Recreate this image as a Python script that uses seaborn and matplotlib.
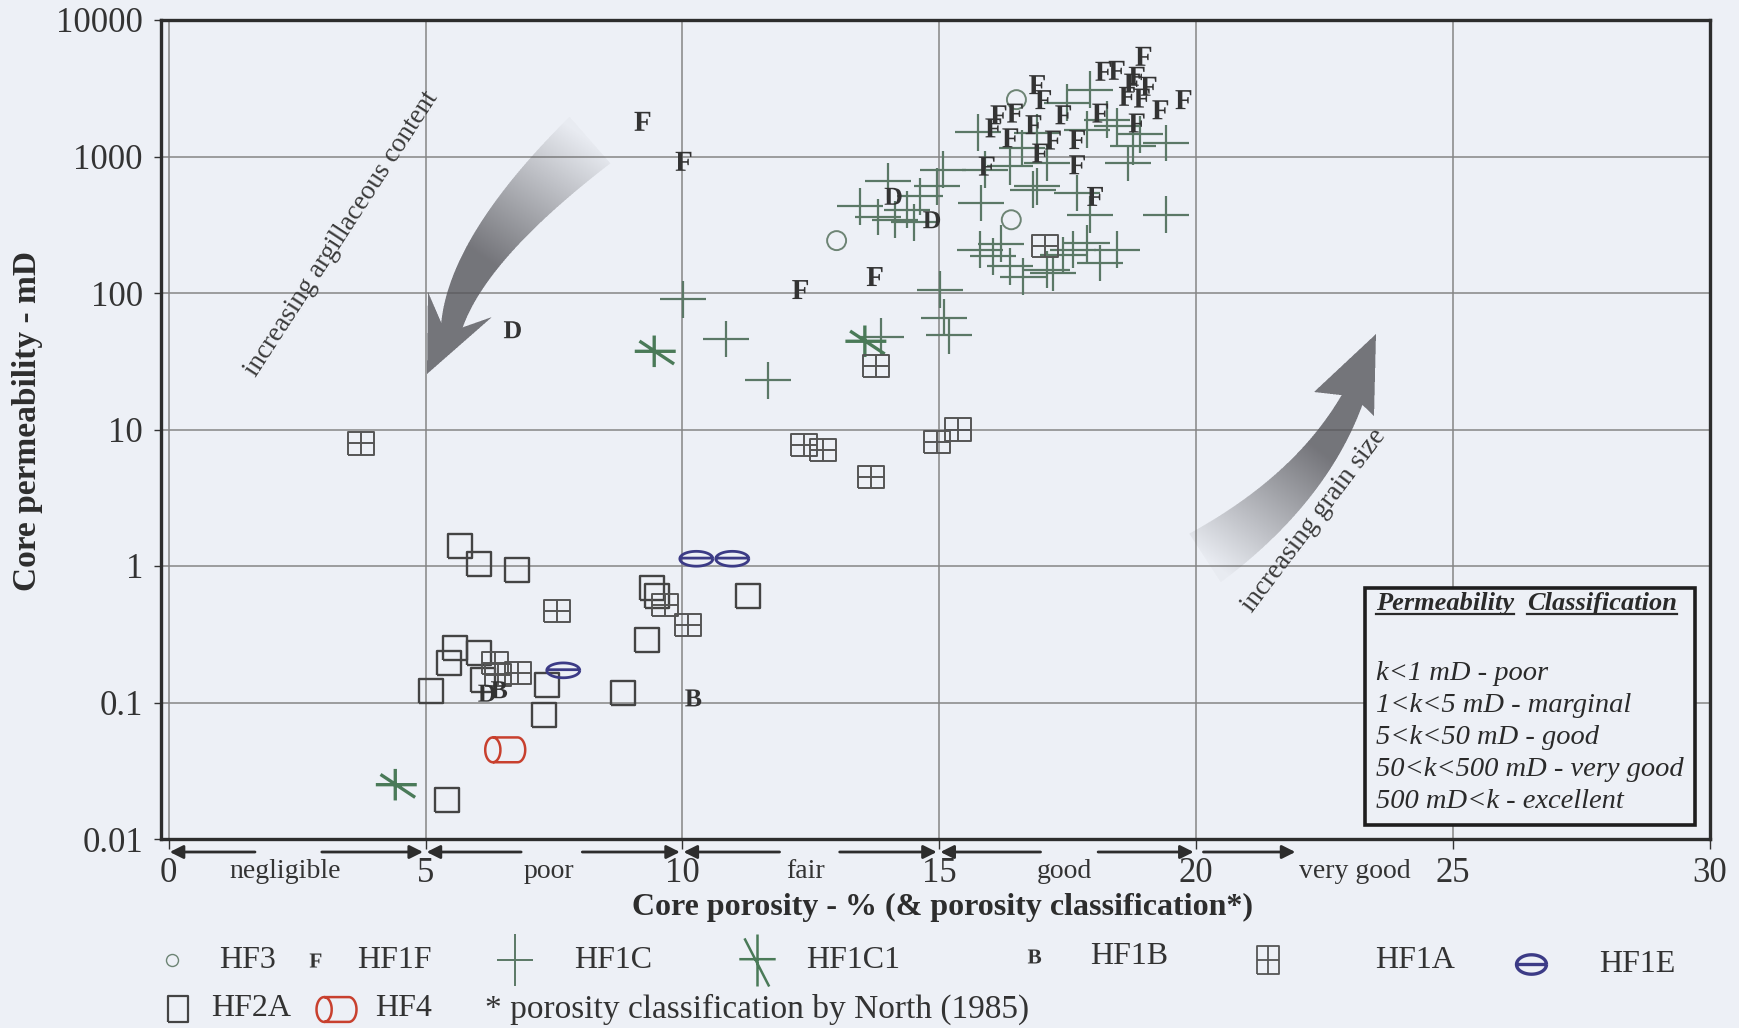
import numpy as np
import pandas as pd
import matplotlib
matplotlib.use("Agg")
import matplotlib.pyplot as plt
import seaborn as sns
from matplotlib.path import Path
from matplotlib.lines import Line2D
from matplotlib.patches import Rectangle
import matplotlib.transforms as mtransforms

# ---------------- data (porosity %, permeability mD) ----------------
hf3_phi = [13.0, 16.5, 16.4]
hf3_k = [242, 2610, 344]

hf1f_phi = [9.22, 10.02, 12.29, 13.74, 18.97, 18.19, 18.45, 18.84, 18.75, 19.07,
            18.65, 18.94, 19.30, 19.75, 16.90, 17.02, 16.15, 16.47, 16.83, 17.41,
            18.13, 18.84, 16.96, 17.68, 17.68, 15.92, 18.03, 16.05, 16.38, 17.21]
hf1f_k = [1810, 922, 106, 132, 5420, 4210, 4280, 3870, 3450, 3270,
          2760, 2680, 2200, 2610, 3360, 2610, 2020, 2080, 1710, 2020,
          2080, 1760, 1060, 1330, 870, 850, 510, 1620, 1370, 1320]

hf1c_phi = [10.01, 10.85, 11.67, 13.87, 15.09, 15.19, 15.02,
            14.01, 13.46, 14.14, 14.37, 14.62, 14.95, 15.08, 15.82, 15.89, 16.83,
            15.79, 16.05, 16.38, 16.63, 17.09, 17.61, 17.09,
            17.93, 17.48, 18.45, 18.77, 19.42, 18.68, 17.87, 18.26, 19.42, 17.93,
            17.68, 18.13, 18.45, 17.87, 16.90, 16.38, 17.22, 16.90, 15.75, 16.60,
            13.80, 14.50, 16.20, 17.40, 18.90]
hf1c_k = [90, 46, 23, 48, 66, 49, 106,
          658, 432, 344, 408, 511, 605, 800, 456, 800, 571,
          207, 186, 157, 132, 148, 207, 896,
          3085, 2470, 1660, 1190, 1255, 896, 1570, 1860, 375, 375,
          540, 166, 207, 232, 605, 850, 140, 1490, 1500, 1150,
          360, 330, 230, 190, 1450]

hf1c1_phi = [4.41, 9.45, 13.55]
hf1c1_k = [0.025, 37.4, 44.3]

hf1b_phi = [10.21, 6.43]
hf1b_k = [0.108, 0.124]

hf1d_phi = [6.69, 14.10, 14.85, 6.19]
hf1d_k = [53.8, 511, 344, 0.117]

hf1a_phi = [3.75, 7.56, 9.66, 10.10, 6.35, 6.40, 6.79, 12.37, 12.74, 13.67,
            14.95, 15.37, 13.77, 17.06]
hf1a_k = [7.9, 0.466, 0.52, 0.371, 0.195, 0.16, 0.164, 7.74, 7.1, 4.5,
          8.06, 10.0, 29.0, 220]

hf1e_phi = [10.27, 10.97, 7.68]
hf1e_k = [1.13, 1.13, 0.172]

hf2a_phi = [5.67, 6.04, 6.78, 9.40, 11.27, 9.30, 8.85, 5.10, 5.46, 5.58,
            6.03, 6.11, 7.36, 7.30, 5.42, 9.50]
hf2a_k = [1.39, 1.03, 0.94, 0.69, 0.605, 0.289, 0.117, 0.121, 0.195, 0.251,
          0.23, 0.147, 0.135, 0.0806, 0.0194, 0.60]

hf4_phi = [6.55]
hf4_k = [0.045]

x_ticks = [0, 5, 10, 15, 20, 25, 30]
y_ticks = [0.01, 0.1, 1, 10, 100, 1000, 10000]
y_tick_labels = ["0.01", "0.1", "1", "10", "100", "1000", "10000"]

porosity_classes = ["negligible", "poor", "fair", "good", "very good"]
class_bounds = [0, 5, 10, 15, 20]
class_label_x = [2.27, 7.40, 12.39, 17.44, 22.0]
class_gap_left = [1.68, 6.86, 11.89, 16.97]
class_gap_right = [2.98, 8.05, 13.06, 18.09]

perm_class_lines = ["k<1 mD - poor", "1<k<5 mD - marginal", "5<k<50 mD - good",
                    "50<k<500 mD - very good", "500 mD<k - excellent"]

# ---------------- style ----------------
BG = "#edf0f6"
plt.rcParams['font.family'] = ['Liberation Serif', 'DejaVu Serif']
plt.rcParams['mathtext.fontset'] = 'custom'
plt.rcParams['mathtext.rm'] = 'Liberation Serif'
plt.rcParams['mathtext.bf'] = 'Liberation Serif:bold'
plt.rcParams['mathtext.it'] = 'Liberation Serif:italic'

W, H = 1739, 1028
fig = plt.figure(figsize=(W / 100, H / 100), dpi=100, facecolor=BG)


def fx(px):
    return px / W


def fy(py):
    return 1 - py / H


ax_l, ax_r, ax_t, ax_b = 161, 1710, 20, 839
ax = fig.add_axes([fx(ax_l), fy(ax_b), (ax_r - ax_l) / W, (ax_b - ax_t) / H])
ax.set_facecolor(BG)
ax.set_yscale('log')
ax.set_xlim(-0.15, 30)
ax.set_ylim(0.01, 10000)


# ---------------- marker shapes ----------------
def lines_path(segs):
    verts, codes = [], []
    for seg in segs:
        for i, p in enumerate(seg):
            verts.append(p)
            codes.append(Path.MOVETO if i == 0 else Path.LINETO)
    return Path(np.array(verts, float), codes)


th = np.linspace(0, 2 * np.pi, 61)
PLUS = lines_path([[(-1, 0), (1, 0)], [(0, -0.8), (0, 0.8)]])
STAR = lines_path([[(-0.95, 0), (1.05, 0)], [(0, -0.77), (0, 0.77)], [(-0.72, 0.5), (0.97, -0.62)]])
BOXPLUS = lines_path([[(-1, -0.85), (1, -0.85), (1, 0.85), (-1, 0.85), (-1, -0.85)],
                      [(-1, 0), (1, 0)], [(0, -0.85), (0, 0.85)]])
ELL = lines_path([list(zip(np.cos(th), 0.45 * np.sin(th))), [(-1, 0.04), (1, 0.04)]])
half_t = np.linspace(np.pi / 2, -np.pi / 2, 31)
CYL = lines_path([list(zip(-0.62 + 0.38 * np.cos(th), 0.62 * np.sin(th))),
                  [(-0.62, 0.62)] + list(zip(0.62 + 0.38 * np.cos(half_t), 0.62 * np.sin(half_t))) + [(-0.62, -0.62)]])
SQ = lines_path([[(-1, -1), (1, -1), (1, 1), (-1, 1), (-1, -1)]])

PT = 0.72  # points per pixel at 100 dpi


def plot_open(phi, k, marker, size_px, color, lw, z=4):
    df = pd.DataFrame({'phi': phi, 'k': k})
    sns.scatterplot(data=df, x='phi', y='k', marker=marker, s=(size_px * PT) ** 2,
                    color=color, facecolor='none', edgecolor=color, linewidth=lw,
                    ax=ax, zorder=z, legend=False)


def plot_glyph(phi, k, marker, size_px, color, z=6):
    df = pd.DataFrame({'phi': phi, 'k': k})
    sns.scatterplot(data=df, x='phi', y='k', marker=marker, s=(size_px * PT) ** 2,
                    color=color, edgecolor='none', linewidth=0, ax=ax, zorder=z, legend=False)


C_CROSS = "#5b7866"
C_STAR = "#4a7a58"
C_DARK = "#333333"
C_SQ = "#444444"
C_NAVY = "#3c3b86"
C_RED = "#c8402e"
C_CIRC = "#6d8474"

plot_open(hf1c_phi, hf1c_k, PLUS, 46, C_CROSS, 1.6, z=3)
plot_open(hf1c1_phi, hf1c1_k, STAR, 43, C_STAR, 2.4, z=4)
plot_open(hf2a_phi, hf2a_k, SQ, 24, C_SQ, 1.7, z=4)
plot_open(hf1a_phi, hf1a_k, BOXPLUS, 26, "#555555", 1.4, z=4)
plot_open(hf1e_phi, hf1e_k, ELL, 33, C_NAVY, 2.0, z=5)
plot_open(hf4_phi, hf4_k, CYL, 40, C_RED, 1.8, z=5)
plot_open(hf3_phi, hf3_k, 'o', 19, C_CIRC, 1.4, z=5)
plot_glyph(hf1f_phi, hf1f_k, r'$\mathbf{F}$', 19, C_DARK)
plot_glyph(hf1d_phi, hf1d_k, r'$\mathbf{D}$', 17, C_DARK)
plot_glyph(hf1b_phi, hf1b_k, r'$\mathbf{B}$', 17, C_DARK)

# ---------------- axes styling ----------------
ax.set_xticks(x_ticks)
ax.set_xticklabels([str(v) for v in x_ticks])
ax.set_yticks(y_ticks)
ax.set_yticklabels(y_tick_labels)
ax.yaxis.set_minor_locator(matplotlib.ticker.NullLocator())
ax.grid(True, which='major', color='#858585', lw=1.1)
ax.set_axisbelow(True)
ax.tick_params(axis='x', length=7, width=1, pad=6, labelsize=25, colors='#333333')
ax.tick_params(axis='y', length=5, width=1, pad=8, labelsize=25, colors='#333333')
for s in ax.spines.values():
    s.set_linewidth(2.4)
    s.set_color('#2d2d2d')
ax.set_xlabel("")
ax.set_ylabel("")

fig.text(fx(943), fy(907), "Core porosity - % (& porosity classification*)", ha='center', va='center',
         fontsize=23, fontweight='bold', color='#2d2d2d')
fig.text(fx(28), fy(421), "Core permeability - mD", ha='center', va='center', rotation=90,
         fontsize=24, fontweight='bold', color='#2d2d2d')

# ---------------- porosity classification arrows ----------------
trans = mtransforms.blended_transform_factory(ax.transData, ax.transAxes)
yarr = (ax_b - 852) / (ax_b - ax_t)
ylab = (ax_b - 871) / (ax_b - ax_t)
aprops = dict(arrowstyle='-|>', color='#2d2d2d', lw=2.0, mutation_scale=20, shrinkA=0, shrinkB=0)
for i in range(4):
    a, b = class_bounds[i], class_bounds[i + 1]
    ax.annotate('', xy=(a + 0.02, yarr), xytext=(class_gap_left[i], yarr), xycoords=trans,
                textcoords=trans, arrowprops=aprops, annotation_clip=False)
    ax.annotate('', xy=(b - 0.05, yarr), xytext=(class_gap_right[i], yarr), xycoords=trans,
                textcoords=trans, arrowprops=aprops, annotation_clip=False)
    ax.text(class_label_x[i], ylab, porosity_classes[i], transform=trans, ha='center', va='center',
            fontsize=20, color='#333333')
ax.annotate('', xy=(21.93, yarr), xytext=(20.14, yarr), xycoords=trans, textcoords=trans,
            arrowprops=aprops, annotation_clip=False)
ax.text(class_label_x[4], ylab, porosity_classes[4], transform=trans, ha='left', va='center',
        fontsize=20, color='#333333')


# ---------------- gradient curved arrows ----------------
def grad_arrow(P0, P1, P2, w0, w1, side1, tip, side2, a0=0.03, a1=0.8, col=(0.34, 0.34, 0.36)):
    P0, P1, P2 = [np.array(p, float) for p in (P0, P1, P2)]
    ts = np.linspace(0, 1, 60)
    pts = np.array([(1 - t) ** 2 * P0 + 2 * (1 - t) * t * P1 + t ** 2 * P2 for t in ts])
    ders = np.array([2 * (1 - t) * (P1 - P0) + 2 * t * (P2 - P1) for t in ts])
    nrm = np.stack([-ders[:, 1], ders[:, 0]], 1)
    nrm /= np.linalg.norm(nrm, axis=1)[:, None]
    w = (w0 + (w1 - w0) * ts)[:, None]
    left = pts + nrm * w / 2
    right = pts - nrm * w / 2
    poly = np.vstack([left, [side1, tip, side2], right[::-1]])
    path = Path(poly)
    xmin, ymin = (np.floor(poly.min(0)) - 2).astype(int)
    xmax, ymax = (np.ceil(poly.max(0)) + 2).astype(int)
    ww, hh = xmax - xmin, ymax - ymin
    ss = 3
    xs = xmin + (np.arange(ww * ss) + 0.5) / ss
    ys = ymin + (np.arange(hh * ss) + 0.5) / ss
    X, Y = np.meshgrid(xs, ys)
    inside = path.contains_points(np.c_[X.ravel(), Y.ravel()]).reshape(X.shape).astype(float)
    d = np.array(tip, float) - P0
    t = ((X - P0[0]) * d[0] + (Y - P0[1]) * d[1]) / (d @ d)
    alpha = (a0 + (a1 - a0) * np.clip(t / 0.55, 0, 1)) * inside
    alpha = alpha.reshape(hh, ss, ww, ss).mean(axis=(1, 3))
    img = np.zeros((hh, ww, 4))
    img[..., :3] = col
    img[..., 3] = alpha
    fig.figimage(img, xo=xmin, yo=H - ymax, origin='upper', zorder=6)


grad_arrow((590, 140), (469, 246), (452, 325), 62, 22, (428, 292), (427, 374), (492, 317))
grad_arrow((1205, 558), (1310, 490), (1352, 400), 58, 23, (1374, 416), (1376, 334), (1314, 392))

fig.text(fx(342), fy(234), "increasing argillaceous content", rotation=57, ha='center', va='center',
         fontsize=19.5, color='#3a3a3a', zorder=7)
fig.text(fx(1314), fy(521), "increasing grain size", rotation=53, ha='center', va='center',
         fontsize=19.5, color='#3a3a3a', zorder=7)

# ---------------- permeability classification box ----------------
box = Rectangle((fx(1365), fy(825)), (1695 - 1365) / W, (825 - 588) / H, transform=fig.transFigure,
                facecolor=BG, edgecolor='#1e1e1e', lw=2.6, zorder=8)
fig.add_artist(box)
t1 = fig.text(fx(1376), fy(610), "Permeability", fontsize=19, fontweight='bold', fontstyle='italic',
              va='baseline', ha='left', color='#2a2a2a', zorder=9)
t2 = fig.text(fx(1527), fy(610), "Classification", fontsize=19, fontweight='bold', fontstyle='italic',
              va='baseline', ha='left', color='#2a2a2a', zorder=9)
for i, line in enumerate(perm_class_lines):
    fig.text(fx(1376), fy(680 + i * 32), line, fontsize=20.5, fontstyle='italic', va='baseline',
             ha='left', color='#2a2a2a', zorder=9)

# ---------------- legend (manual, below the axis) ----------------
row1, row2 = 960, 1009
leg_items = [
    (172, row1, 'o', 12, C_CIRC, 'none', 1.0, "HF3", 219),
    (315, row1, r'$\mathbf{F}$', 14, C_DARK, C_DARK, 0, "HF1F", 357),
    (515, row1, lines_path([[(-0.7, 0), (0.7, 0)], [(0, -1), (0, 1)]]), 52, C_CROSS, 'none', 1.4, "HF1C", 574),
    (757, row1, lines_path([[(-0.7, 0.05), (0.7, 0.05)], [(0, -1), (0, 1)], [(-0.5, 0.85), (0.45, -1)]]), 52,
     C_STAR, 'none', 1.8, "HF1C1", 806),
    (1034, row1 - 4, r'$\mathbf{B}$', 14, C_DARK, C_DARK, 0, "HF1B", 1090),
    (1268, row1, lines_path([[(-0.8, -1), (0.8, -1), (0.8, 1), (-0.8, 1), (-0.8, -1)], [(-0.8, 0), (0.8, 0)],
                             [(0, -1), (0, 1)]]), 28, "#555555", 'none', 1.3, "HF1A", 1375),
    (1531, row1 + 4, lines_path([list(zip(0.85 * np.cos(th), 0.55 * np.sin(th))), [(-0.85, 0), (0.85, 0)]]), 30,
     C_NAVY, 'none', 2.4, "HF1E", 1599),
    (178, row2, lines_path([[(-0.8, -1), (0.8, -1), (0.8, 1), (-0.8, 1), (-0.8, -1)]]), 26, C_SQ, 'none', 1.6,
     "HF2A", 211),
    (336, row2, CYL, 40, C_RED, 'none', 1.8, "HF4", 375),
]
for (mx, my, mk, ms, ec, fc, mlw, lab, tx) in leg_items:
    fig.add_artist(Line2D([fx(mx)], [fy(my)], transform=fig.transFigure, marker=mk, markersize=ms * PT,
                          markeredgecolor=ec, markerfacecolor=(ec if fc != 'none' else 'none'),
                          markeredgewidth=mlw, linestyle='none'))
    fig.text(fx(tx), fy(my), lab, fontsize=23, ha='left', va='center', color='#333333')
fig.text(fx(485), fy(row2), "* porosity classification by North (1985)", fontsize=24, ha='left',
         va='center', color='#333333')

# underline the box title words
fig.canvas.draw()
rend = fig.canvas.get_renderer()
for t in (t1, t2):
    bb = t.get_window_extent(rend)
    yline = fy(614)
    fig.add_artist(Line2D([bb.x0 / W, bb.x1 / W], [yline, yline], transform=fig.transFigure,
                          color='#2a2a2a', lw=1.6, zorder=9))

fig.savefig("out.png", dpi=100, facecolor=BG)
